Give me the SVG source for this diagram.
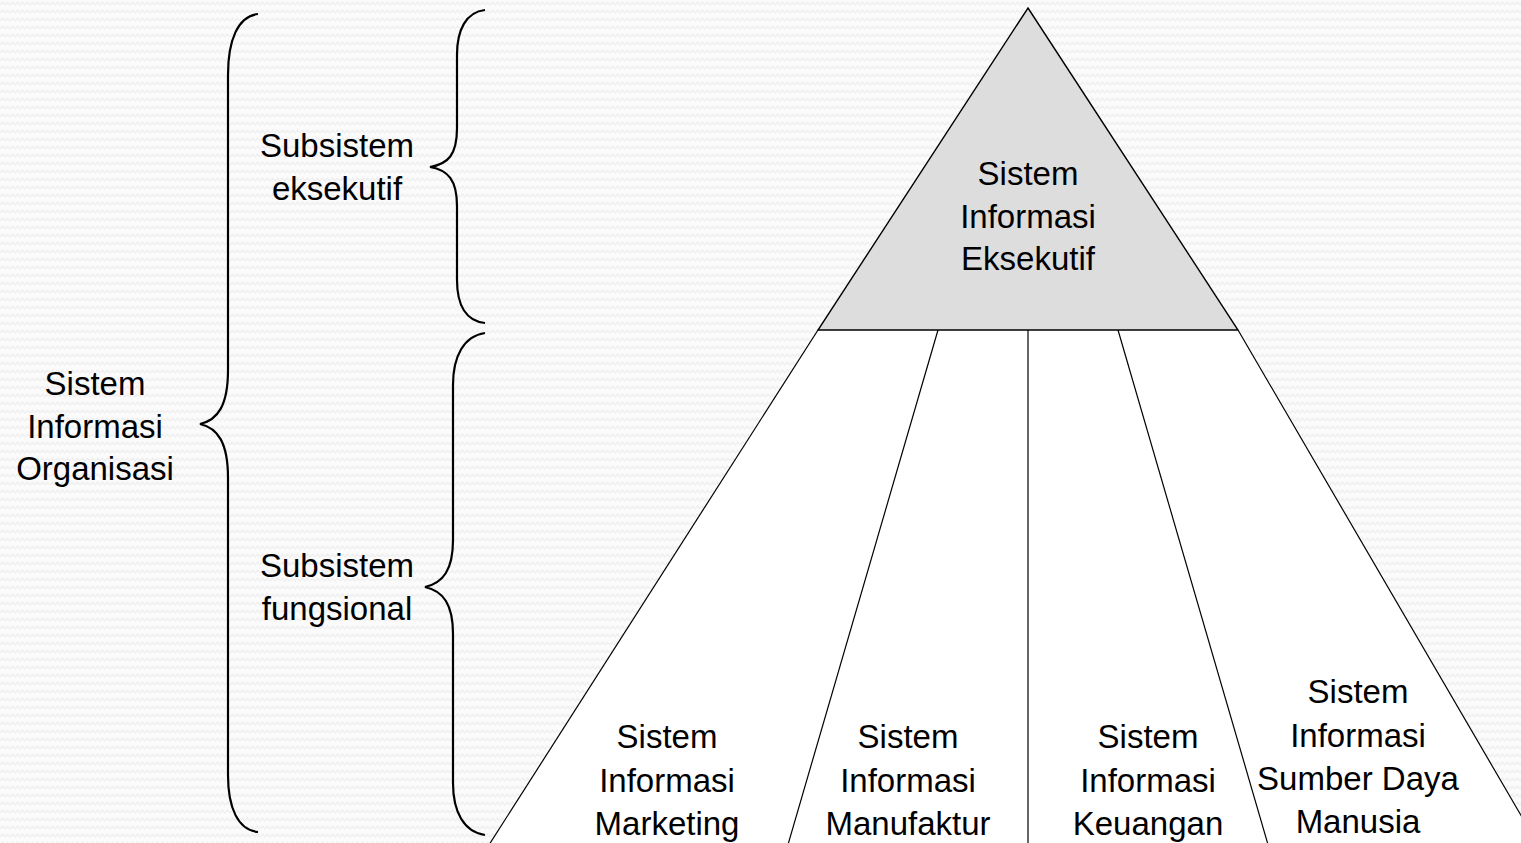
<svg xmlns="http://www.w3.org/2000/svg" width="1521" height="843" viewBox="0 0 1521 843">
<style>
.t{font-family:"Liberation Sans",Arial,sans-serif;font-size:33px;fill:#000;text-anchor:middle}
.br{fill:none;stroke:#000;stroke-width:2.2}
.ln{fill:none;stroke:#000;stroke-width:1.2}
</style>
<defs>
<pattern id="bg" width="10" height="8" patternUnits="userSpaceOnUse">
<rect width="10" height="8" fill="#fbfbfb"/>
<path d="M0 5 L2.5 2 L5 5 L7.5 2 L10 5" fill="none" stroke="#f0f0f0" stroke-width="1.2"/>
</pattern>
</defs>
<rect width="1521" height="843" fill="url(#bg)"/>

<g id="brace-organisasi">
<path class="br" d="M258 14 C238 16 228 40 228 75 L228 370 C228 405 218 420 200 424 C218 428 228 443 228 478 L228 775 C228 808 238 830 258 832"/>
<text class="t" x="95" y="395">Sistem</text>
<text class="t" x="95" y="438">Informasi</text>
<text class="t" x="95" y="480">Organisasi</text>
</g>

<g id="brace-eksekutif">
<path class="br" d="M485 10 C466 12 457 30 457 55 L457 128 C457 155 448 164 430 167 C448 170 457 180 457 206 L457 280 C457 305 466 321 485 323"/>
<text class="t" x="337" y="157">Subsistem</text>
<text class="t" x="337" y="200">eksekutif</text>
</g>

<g id="brace-fungsional">
<path class="br" d="M485 333 C464 336 453 356 453 385 L453 540 C453 570 443 583 425 587 C443 591 453 604 453 634 L453 783 C453 812 464 832 485 835"/>
<text class="t" x="337" y="577">Subsistem</text>
<text class="t" x="337" y="620">fungsional</text>
</g>

<g id="node-base">
<polygon points="818,330 1238,330 1540,848 487,848" fill="#ffffff"/>
</g>

<g id="node-eksekutif">
<polygon points="1028,8 1238,330 818,330" fill="#dddddd" stroke="#000" stroke-width="1.4"/>
<text class="t" x="1028" y="185">Sistem</text>
<text class="t" x="1028" y="228">Informasi</text>
<text class="t" x="1028" y="270">Eksekutif</text>
</g>

<g id="connectors">
<line class="ln" x1="818" y1="330" x2="487" y2="848"/>
<line class="ln" x1="1238" y1="330" x2="1540" y2="848"/>
<line class="ln" x1="938" y1="330" x2="787" y2="848"/>
<line class="ln" x1="1028" y1="330" x2="1028" y2="848"/>
<line class="ln" x1="1118" y1="330" x2="1269" y2="848"/>
</g>

<g id="node-marketing">
<text class="t" x="667" y="748">Sistem</text>
<text class="t" x="667" y="792">Informasi</text>
<text class="t" x="667" y="835">Marketing</text>
</g>
<g id="node-manufaktur">
<text class="t" x="908" y="748">Sistem</text>
<text class="t" x="908" y="792">Informasi</text>
<text class="t" x="908" y="835">Manufaktur</text>
</g>
<g id="node-keuangan">
<text class="t" x="1148" y="748">Sistem</text>
<text class="t" x="1148" y="792">Informasi</text>
<text class="t" x="1148" y="835">Keuangan</text>
</g>
<g id="node-sdm">
<text class="t" x="1358" y="703">Sistem</text>
<text class="t" x="1358" y="747">Informasi</text>
<text class="t" x="1358" y="790">Sumber Daya</text>
<text class="t" x="1358" y="833">Manusia</text>
</g>
</svg>
